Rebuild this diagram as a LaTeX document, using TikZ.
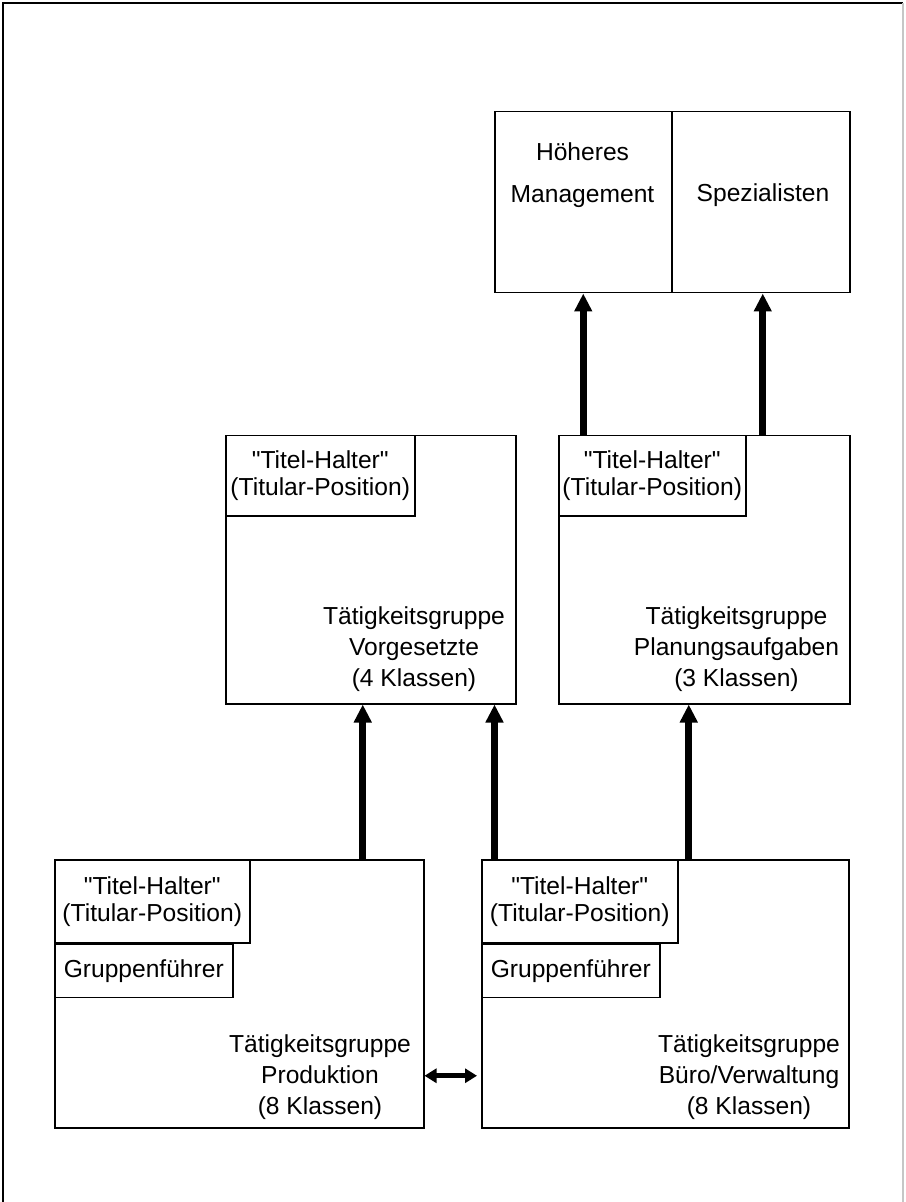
\documentclass[tikz,border=0pt]{standalone}
\usepackage{fontspec}
\setmainfont{Liberation Sans}
\usetikzlibrary{arrows.meta}

\begin{document}
\begin{tikzpicture}[
    x=0.5pt, y=-0.5pt,
    feld/.style={draw, line width=0.75pt, anchor=north west, inner sep=0pt},
    titel/.style={feld, align=center, font=\fontsize{12.3}{13.5}\selectfont},
    gtext/.style={align=center, font=\fontsize{12.3}{15.5}\selectfont, inner sep=0pt, anchor=north},
    pfeil/.style={-{Triangle[length=9pt,width=8.5pt]}, line width=3.5pt},
    dpfeil/.style={{Triangle[length=6pt,width=7pt]}-{Triangle[length=6pt,width=7pt]}, line width=2.5pt}
]
\useasboundingbox (0,0) rectangle (905,1202);
% Rahmen
\draw[line width=0.9pt] (3,1202) -- (3,3) -- (903,3);
\draw[line width=0.6pt, gray!45] (903,3) -- (903,1202);

% oberste Ebene
\node[feld, minimum width=88.5pt, minimum height=90.5pt] (mgmt) at (494,111) {};
\node[feld, minimum width=89pt, minimum height=90.5pt] (spez) at (671,111) {};
\node[gtext, font=\fontsize{12.3}{21}\selectfont] (mgmttxt) at (582.5,142.5) {Höheres\\Management};
\node[gtext, anchor=base] (speztxt) at (763,202) {Spezialisten};

% mittlere Ebene
\node[feld, minimum width=145pt, minimum height=134pt] (vorg) at (225,435) {};
\node[titel, minimum width=94.5pt, minimum height=40pt] (vorgtitel) at (vorg.north west) {\textquotedbl Titel-Halter\textquotedbl\\(Titular-Position)};
\node[gtext] (vorgtxt) at (414,606) {Tätigkeitsgruppe\\Vorgesetzte\\(4 Klassen)};

\node[feld, minimum width=145.5pt, minimum height=134pt] (plan) at (558,435) {};
\node[titel, minimum width=93.5pt, minimum height=40pt] (plantitel) at (plan.north west) {\textquotedbl Titel-Halter\textquotedbl\\(Titular-Position)};
\node[gtext] (plantxt) at (736.5,606) {Tätigkeitsgruppe\\Planungsaufgaben\\(3 Klassen)};

% untere Ebene
\node[feld, minimum width=184.5pt, minimum height=134pt] (prod) at (54,859) {};
\node[titel, minimum width=97.5pt, minimum height=41.5pt] (prodtitel) at (prod.north west) {\textquotedbl Titel-Halter\textquotedbl\\(Titular-Position)};
\node[titel, minimum width=89pt, minimum height=26.5pt] (prodgf) at (prodtitel.south west) {Gruppenführer};
\node[gtext] (prodtxt) at (320,1034) {Tätigkeitsgruppe\\Produktion\\(8 Klassen)};

\node[feld, minimum width=183.5pt, minimum height=134pt] (buero) at (481,859) {};
\node[titel, minimum width=98pt, minimum height=41.5pt] (buerotitel) at (buero.north west) {\textquotedbl Titel-Halter\textquotedbl\\(Titular-Position)};
\node[titel, minimum width=89pt, minimum height=26.5pt] (buerogf) at (buerotitel.south west) {Gruppenführer};
\node[gtext] (buerotxt) at (749,1034) {Tätigkeitsgruppe\\Büro/Verwaltung\\(8 Klassen)};

% Aufstiegswege
\draw[pfeil] ([xshift=-4pt]vorg.south |- prod.north) -- ([xshift=-4pt]vorg.south);
\draw[pfeil] ([xshift=-11pt]vorg.south east |- buero.north) -- ([xshift=-11pt]vorg.south east);
\draw[pfeil] ([xshift=-7.75pt]plan.south |- buero.north) -- ([xshift=-7.75pt]plan.south);
\draw[pfeil] (mgmt.south |- plan.north) -- (mgmt.south);
\draw[pfeil] ([xshift=1pt]spez.south |- plan.north) -- ([xshift=1pt]spez.south);
\draw[dpfeil, shorten >=2pt] ([yshift=-41pt]prod.east) -- ([yshift=-41pt]prod.east -| buero.west);
\end{tikzpicture}
\end{document}
